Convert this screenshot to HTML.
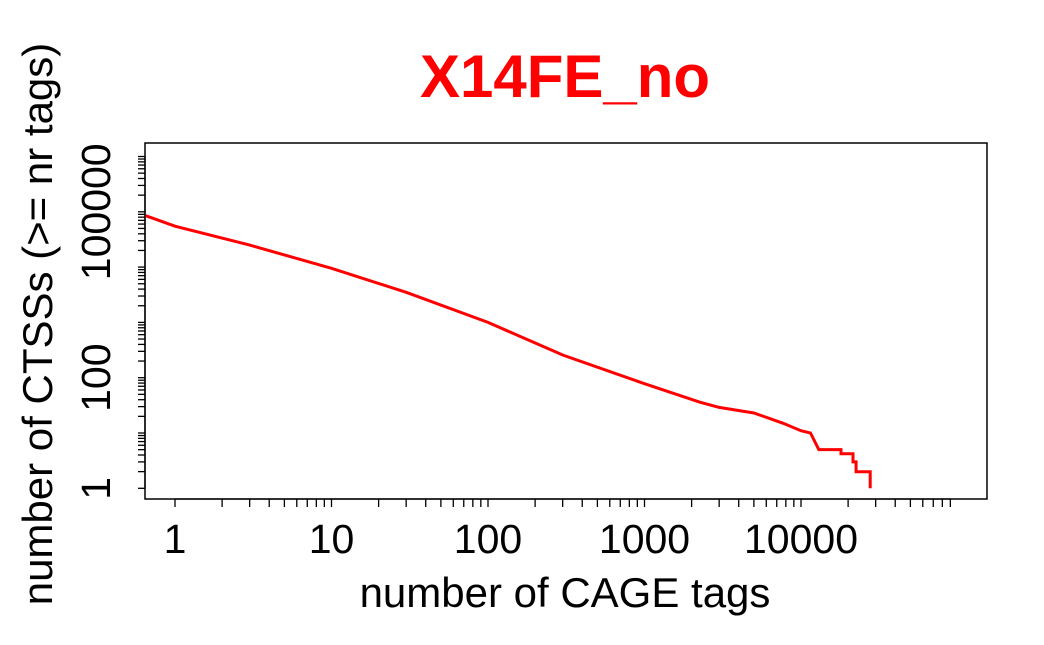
<!DOCTYPE html>
<html><head><meta charset="utf-8"><style>
body{margin:0;background:#fff;}
svg{display:block;font-family:"Liberation Sans",Arial,sans-serif;}
</style></head><body>
<svg width="1044" height="645" viewBox="0 0 1044 645">
<text x="565" y="97" text-anchor="middle" font-size="60" font-weight="bold" fill="#ff0000">X14FE_no</text>
<rect x="145" y="143" width="842" height="356" fill="none" stroke="#000" stroke-width="1.5"/>
<g id="xaxis"></g>
<g id="yaxis"></g>
<text x="565" y="607" text-anchor="middle" font-size="42">number of CAGE tags</text>
<text transform="translate(52,324) rotate(-90)" text-anchor="middle" font-size="42">number of CTSSs (&gt;= nr tags)</text>
<polyline id="curve" fill="none" stroke="#ff0000" stroke-width="3" stroke-linejoin="miter"/>
</svg>
<script>
const xVals=[0.65,1,3,10,30,100,300,1000,2260,3000,5000,7700,10000,11500,13000,18000,18000,21500,21500,22500,22500,27700,27700];
const yVals=[85000,55000,25000,9500,3500,1000,257,78,36,29,23,15,11,10,5,5,4.2,4.2,3,3,2,2,1];
const xTickLabels=["1","10","100","1000","10000"];
const yTickLabels=["1","100","100000"];
const ns="http://www.w3.org/2000/svg";
function sx(v){return 175+Math.log10(v)*156.5;}
function sy(v){return 488.3-Math.log10(v)*55.3;}
const xa=document.getElementById('xaxis'),ya=document.getElementById('yaxis');
function line(g,x1,y1,x2,y2){const l=document.createElementNS(ns,'line');l.setAttribute('x1',x1);l.setAttribute('y1',y1);l.setAttribute('x2',x2);l.setAttribute('y2',y2);l.setAttribute('stroke','#000');l.setAttribute('stroke-width','1.3');


g.appendChild(l);}
function text(g,x,y,s,rot){const t=document.createElementNS(ns,'text');t.textContent=s;t.setAttribute('font-size','41');t.setAttribute('text-anchor','middle');
if(rot){t.setAttribute('transform','translate('+x+','+y+') rotate(-90)');}else{t.setAttribute('x',x);t.setAttribute('y',y);}


g.appendChild(t);}
line(xa,sx(1),499,sx(90000),499);
for(let d=0;d<5;d++)for(let m=1;m<10;m++){const x=sx(m*Math.pow(10,d));line(xa,x,499,x,507);}
xTickLabels.forEach(s=>text(xa,sx(+s),553,s,false));
line(ya,145,sy(1),145,sy(1e6));
for(let d=0;d<6;d++)for(let m=1;m<10;m++){const y=sy(m*Math.pow(10,d));line(ya,138,y,145,y);}
line(ya,138,sy(1e6),145,sy(1e6));
yTickLabels.forEach(s=>text(ya,110,sy(+s),s,true));
document.getElementById('curve').setAttribute('points',xVals.map((v,i)=>sx(v).toFixed(1)+','+sy(yVals[i]).toFixed(1)).join(' '));
</script>
</body></html>
